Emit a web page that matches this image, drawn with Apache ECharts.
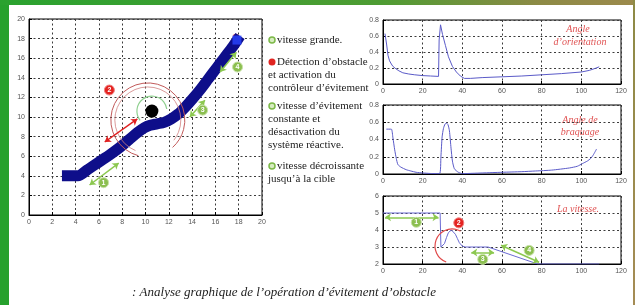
<!DOCTYPE html>
<html>
<head>
<meta charset="utf-8">
<script src="https://cdn.jsdelivr.net/npm/echarts@6/dist/echarts.min.js"></script>
<style>
  html, body { margin: 0; padding: 0; background: #fff; }
  #main { width: 635px; height: 305px; }
</style>
</head>
<body>
<div id="main"></div>
<script>
// trajectoire du robot (plan x-y)
var trajX = [3.3, 4.2, 5.0, 6.0, 7.0, 7.8, 8.6, 9.3, 9.9, 10.4, 11.0, 11.6, 12.2, 12.8, 13.4, 14.0, 14.7, 15.4, 16.1, 16.8, 17.5, 17.85];
var trajY = [4.0, 4.0, 4.6, 5.4, 6.2, 6.9, 7.7, 8.4, 8.9, 9.15, 9.3, 9.45, 9.8, 10.3, 11.0, 11.8, 12.8, 13.9, 15.0, 16.1, 17.2, 17.8];
var obstacle = [10.55, 10.6];
var cible = [17.85, 17.85];

// angle d'orientation
var tOrient = [1, 1.8, 2.5, 3.3, 4.2, 5, 6.5, 8, 10, 13, 16, 20, 24, 28, 28.3, 29, 30, 31.5, 33, 35, 37, 39, 41, 44, 50, 60, 70, 80, 90, 100, 104, 107, 109];
var orient = [0.63, 0.5, 0.36, 0.29, 0.25, 0.22, 0.19, 0.165, 0.14, 0.125, 0.115, 0.105, 0.1, 0.095, 0.55, 0.74, 0.62, 0.48, 0.34, 0.22, 0.15, 0.1, 0.07, 0.07, 0.08, 0.09, 0.1, 0.115, 0.13, 0.15, 0.17, 0.195, 0.215];

// angle de braquage
var tBraq = [1.7, 4.2, 5, 5.9, 6.7, 7.5, 9, 11.7, 14, 16.7, 20, 24, 28.5, 29.2, 29.8, 30.5, 31.3, 32, 32.8, 33.5, 34.3, 35, 36, 38, 40.2, 45, 50, 60, 70, 77, 85, 94, 98, 100.5, 103, 104.7, 106, 107.7];
var braq = [0.52, 0.52, 0.42, 0.28, 0.18, 0.11, 0.08, 0.05, 0.035, 0.02, 0.012, 0.006, 0.004, 0.2, 0.43, 0.53, 0.58, 0.59, 0.57, 0.5, 0.3, 0.15, 0.06, 0.02, 0.004, 0.008, 0.012, 0.02, 0.027, 0.035, 0.045, 0.07, 0.09, 0.12, 0.15, 0.18, 0.22, 0.29];

// la vitesse
var tVit = [0, 28.8, 29.2, 30, 31, 32, 33, 34.5, 35.5, 36.5, 37.5, 38.5, 40, 41.5, 53, 78, 109];
var vit = [5, 5, 3.0, 3.0, 3.2, 3.55, 3.85, 4.0, 3.95, 3.75, 3.5, 3.25, 3.05, 3.0, 3.0, 2.0, 2.0];

// annotations (coordonnees des axes)
var flechesVertesXY = [[[7.7, 5.3], [5.2, 3.06]], [[15.1, 11.7], [13.8, 10.0]], [[17.8, 16.6], [16.4, 14.6]]];
var flecheRougeXY = [[[9.3, 9.8], [6.5, 7.45]]];
var pastillesXY = [[6.4, 3.3, '1'], [14.9, 10.7, '3'], [17.9, 15.1, '4']];
var pastilleRougeXY = [[6.9, 12.75, '2']];
var arcsXY = [[10.55, 10.6], [10.2, 9.7], [10.2, 9.7]];

var flechesVertesV = [[[1, 4.75], [28, 4.75]], [[44.5, 2.68], [56, 2.68]], [[59.5, 3.1], [78.7, 2.1]]];
var pastillesV = [[16.8, 4.45, '1'], [50.3, 2.27, '3'], [73.7, 2.8, '4']];
var pastilleRougeV = [[38.2, 4.42, '2']];
var arcsV = [[34.8, 3.06]];

var legende = [
  ['vitesse grande.', 'g'],
  ['Détection d\u2019obstacle', 'r'],
  ['et activation du', ''],
  ['contrôleur d\u2019évitement', ''],
  ['vitesse d\u2019évitement', 'g'],
  ['constante et', ''],
  ['désactivation du', ''],
  ['système réactive.', ''],
  ['vitesse décroissante', 'g'],
  ['jusqu\u2019à la cible', '']
];
var legendeY = [40, 62, 75, 88, 106, 119, 132, 145, 166, 179];

function zip(a, b) { return a.map(function (v, i) { return [v, b[i]]; }); }

var chart = echarts.init(document.getElementById('main'));

var lbl = { fontSize: 7, color: '#555', fontFamily: 'Liberation Sans', margin: 4 };
var split = { show: true, lineStyle: { color: '#3c3c3c', type: [2, 2.5], width: 1 } };
var tick = { show: true, inside: true, length: 3, lineStyle: { color: '#000' } };
var line0 = { show: true, lineStyle: { color: '#000', width: 1 } };

function xAx(i, max, step) {
  return { type: 'value', gridIndex: i, min: 0, max: max, interval: step, axisLine: line0, axisTick: tick, axisLabel: lbl, splitLine: split };
}
function yAx(i, min, max, step) {
  return { type: 'value', gridIndex: i, min: min, max: max, interval: step, axisLine: line0, axisTick: tick, axisLabel: lbl, splitLine: split };
}

var arcSpecs = [
  { r: 15, a0: 142, a1: 352, color: '#8fd08f', w: 1.2 },
  { r: 37, a0: 105, a1: 408, color: '#c25a5a', w: 1 },
  { r: 33, a0: 112, a1: 398, color: '#d08080', w: 0.8 }
];
var arcSpecsV = [{ r: 17, a0: 110, a1: 300, color: '#e04848', w: 1.2 }];

function arcSeries(data, specs, gi) {
  return {
    type: 'custom', xAxisIndex: gi, yAxisIndex: gi, data: data, z: 4, silent: true,
    renderItem: function (params, api) {
      var c = api.coord([api.value(0), api.value(1)]);
      var s = specs[params.dataIndex];
      return {
        type: 'arc',
        shape: { cx: c[0], cy: c[1], r: s.r, startAngle: s.a0 * Math.PI / 180, endAngle: s.a1 * Math.PI / 180, clockwise: true },
        style: { fill: null, stroke: s.color, lineWidth: s.w }
      };
    }
  };
}
function arrows(data, gi, color) {
  return {
    type: 'lines', coordinateSystem: 'cartesian2d', xAxisIndex: gi, yAxisIndex: gi, z: 5,
    symbol: ['arrow', 'arrow'], symbolSize: 6,
    lineStyle: { color: color, width: 1.5, opacity: 1, curveness: 0 },
    data: data.map(function (c) { return { coords: c }; })
  };
}
function badges(data, gi, color, ring) {
  return {
    type: 'scatter', xAxisIndex: gi, yAxisIndex: gi, data: data, symbolSize: 10, z: 6,
    itemStyle: { color: color, borderColor: ring, borderWidth: 1, opacity: 1 },
    label: { show: true, position: 'inside', formatter: function (p) { return p.value[2]; }, fontSize: 7, fontWeight: 'bold', color: '#fff', fontFamily: 'Liberation Sans' }
  };
}

var graphics = [];
// cadre vert
graphics.push({ type: 'rect', shape: { x: 0, y: 0, width: 9, height: 305 }, style: { fill: '#27a12d' }, z: 100 });
graphics.push({ type: 'rect', shape: { x: 0, y: 0, width: 635, height: 5 }, z: 100,
  style: { fill: new echarts.graphic.LinearGradient(0, 0, 1, 0, [{ offset: 0, color: '#2aa22f' }, { offset: 0.6, color: '#4e9c33' }, { offset: 0.85, color: '#8d8a45' }, { offset: 1, color: '#9c8a4c' }]) } });
graphics.push({ type: 'rect', shape: { x: 633, y: 0, width: 2, height: 305 }, z: 100,
  style: { fill: new echarts.graphic.LinearGradient(0, 0, 0, 1, [{ offset: 0, color: '#8d8a45' }, { offset: 1, color: '#a58c55' }]) } });

legende.forEach(function (it, i) {
  var x = it[1] ? 277 : 268;
  if (it[1] === 'g') {
    graphics.push({ type: 'circle', shape: { cx: 272, cy: legendeY[i], r: 3 }, style: { fill: '#d6ecc0', stroke: '#7cb848', lineWidth: 1.5 } });
  } else if (it[1] === 'r') {
    graphics.push({ type: 'circle', shape: { cx: 272, cy: legendeY[i], r: 3.5 }, style: { fill: '#e02420' } });
  }
  graphics.push({ type: 'text', x: x, y: legendeY[i], style: { text: it[0], font: '11px "Liberation Serif"', fill: '#222', textVerticalAlign: 'middle' } });
});

function titre(txt, x, y, size) {
  graphics.push({ type: 'text', x: x, y: y, style: { text: txt, font: 'italic ' + size + 'px "Liberation Serif"', fill: '#e05252', textAlign: 'center', textVerticalAlign: 'middle' } });
}
titre('Angle', 578, 29, 10);
titre('d\u2019orientation', 580, 42, 10);
titre('Angle de', 580, 120, 10);
titre('braquage', 580, 132, 10);
titre('La vitesse.', 578, 209, 10);

graphics.push({ type: 'text', x: 132, y: 293, style: { text: ': Analyse graphique de l\u2019opération d\u2019évitement d\u2019obstacle', font: 'italic 13px "Liberation Serif"', fill: '#222', textVerticalAlign: 'middle' } });

var gridStyle = { show: true, borderColor: '#000', borderWidth: 1, backgroundColor: '#fff' };

chart.setOption({
  animation: false,
  backgroundColor: '#fff',
  grid: [
    Object.assign({ left: 29, top: 19, width: 233, height: 196 }, gridStyle),
    Object.assign({ left: 383, top: 20, width: 238, height: 64 }, gridStyle),
    Object.assign({ left: 383, top: 105, width: 238, height: 69 }, gridStyle),
    Object.assign({ left: 383, top: 196, width: 238, height: 68 }, gridStyle)
  ],
  xAxis: [xAx(0, 20, 2), xAx(1, 120, 20), xAx(2, 120, 20), xAx(3, 120, 20)],
  yAxis: [yAx(0, 0, 20, 2), yAx(1, 0, 0.8, 0.2), yAx(2, 0, 0.8, 0.2), yAx(3, 2, 6, 1)],
  graphic: graphics,
  series: [
    arcSeries(arcsXY, arcSpecs, 0),
    {
      type: 'line', xAxisIndex: 0, yAxisIndex: 0, data: zip(trajX, trajY), showSymbol: false, smooth: 0.3, z: 3,
      lineStyle: { color: '#0e0e8a', width: 11, cap: 'square', join: 'round' }
    },
    { type: 'scatter', xAxisIndex: 0, yAxisIndex: 0, data: [[cible[0] - 0.1, cible[1] + 0.35]], symbolSize: 6, itemStyle: { color: '#e03030' }, z: 2 },
    { type: 'scatter', xAxisIndex: 0, yAxisIndex: 0, data: [cible], symbol: 'rect', symbolSize: 9, itemStyle: { color: '#2a46ff' }, z: 4 },
    { type: 'scatter', xAxisIndex: 0, yAxisIndex: 0, data: [obstacle], symbolSize: 13, itemStyle: { color: '#000', opacity: 1 }, z: 5 },
    arrows(flechesVertesXY, 0, '#8cc850'),
    arrows(flecheRougeXY, 0, '#e02020'),
    badges(pastillesXY, 0, '#8cbf50', '#c8e2a8'),
    badges(pastilleRougeXY, 0, '#e42320', '#f08080'),

    { type: 'line', xAxisIndex: 1, yAxisIndex: 1, data: zip(tOrient, orient), showSymbol: false, lineStyle: { color: '#5a5ac8', width: 1 } },
    { type: 'line', xAxisIndex: 2, yAxisIndex: 2, data: zip(tBraq, braq), showSymbol: false, smooth: 0.2, lineStyle: { color: '#5a5ac8', width: 1 } },
    { type: 'line', xAxisIndex: 3, yAxisIndex: 3, data: zip(tVit, vit), showSymbol: false, lineStyle: { color: '#6a6ad2', width: 1 } },
    arcSeries(arcsV, arcSpecsV, 3),
    arrows(flechesVertesV, 3, '#8cc850'),
    badges(pastillesV, 3, '#8cbf50', '#c8e2a8'),
    badges(pastilleRougeV, 3, '#e42320', '#f08080')
  ]
});
</script>
</body>
</html>
